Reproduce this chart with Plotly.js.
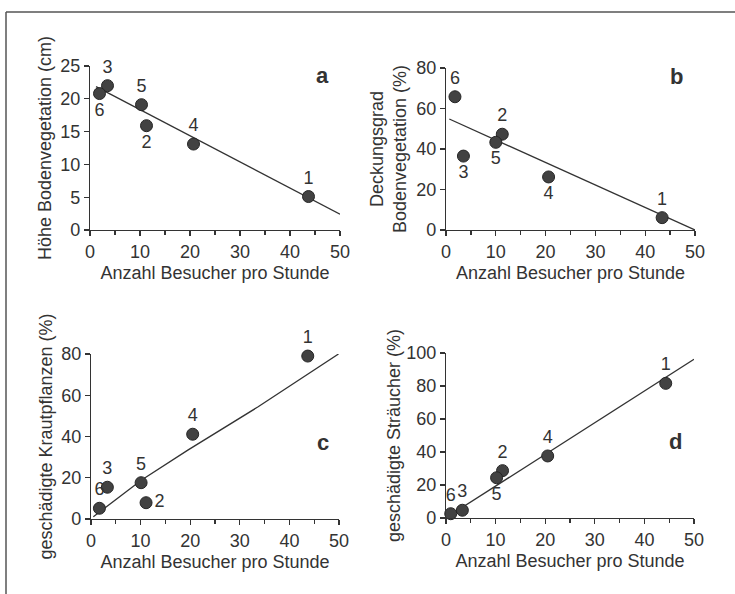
<!DOCTYPE html>
<html><head><meta charset="utf-8">
<script src="https://cdn.plot.ly/plotly-3.0.1.min.js"></script>
<style>html,body{margin:0;padding:0;background:#fff}#chart{width:735px;height:594px}</style>
</head><body><div id="chart"></div><script>
// ---- data ----
const pointLabels = ['1', '2', '3', '4', '5', '6'];
const xTitle = 'Anzahl Besucher pro Stunde';

// a: Höhe Bodenvegetation
const visitorsA = [43.7, 11.3, 3.5, 20.7, 10.3, 1.9];
const heightA = [5.1, 15.9, 22.0, 13.1, 19.1, 20.8];
const fitAx = [1.2, 50];
const fitAy = [21.85, 2.4];

// b: Deckungsgrad Bodenvegetation
const visitorsB = [43.4, 11.3, 3.5, 20.6, 10.0, 1.8];
const coverB = [6.1, 47.3, 36.5, 26.2, 43.3, 65.8];
const fitBx = [0.66, 50];
const fitBy = [54.8, 0];

// c: geschädigte Krautpflanzen
const visitorsC = [43.7, 11.1, 3.3, 20.5, 10.1, 1.7];
const herbsC = [79.0, 7.9, 15.4, 41.1, 17.6, 5.2];
const fitCx = [0.47, 10.2, 19.6, 33.7, 49.9];
const fitCy = [1.1, 18.9, 33.5, 54.4, 80.0];

// d: geschädigte Sträucher
const visitorsD = [44.3, 11.4, 3.3, 20.5, 10.2, 0.95];
const shrubsD = [81.6, 28.7, 4.7, 37.6, 24.4, 2.6];
const fitDx = [0.5, 50];
const fitDy = [1.1, 96.2];

const panelLetters = ['a', 'b', 'c', 'd'];

// ---- styles ----
const W = 735, H = 594;
const ink = '#333333';
const fontFam = '"Liberation Sans", Arial, Helvetica, sans-serif';
const posA = ['top center', 'bottom center', 'top center', 'top center', 'top center', 'bottom center'];
const posB = ['top center', 'top center', 'bottom center', 'bottom center', 'bottom center', 'top center'];
const posC = ['top center', 'middle right', 'top center', 'top center', 'top center', 'top center'];
const posD = ['top center', 'top center', 'top center', 'top center', 'bottom center', 'top center'];

function lineTrace(x, y, xa, ya) {
  return {x: x, y: y, xaxis: xa, yaxis: ya, mode: 'lines', type: 'scatter',
    line: {color: ink, width: 1.3}, hoverinfo: 'skip', showlegend: false, cliponaxis: false};
}
function pointTrace(x, y, pos, xa, ya) {
  return {x: x, y: y, xaxis: xa, yaxis: ya, mode: 'markers+text', type: 'scatter',
    text: pointLabels, textposition: pos,
    textfont: {family: fontFam, size: 18, color: ink},
    marker: {size: 12, color: '#424242', line: {color: '#262626', width: 1}},
    showlegend: false, cliponaxis: false};
}

const data = [
  lineTrace(fitAx, fitAy, 'x', 'y'), pointTrace(visitorsA, heightA, posA, 'x', 'y'),
  lineTrace(fitBx, fitBy, 'x2', 'y2'), pointTrace(visitorsB, coverB, posB, 'x2', 'y2'),
  lineTrace(fitCx, fitCy, 'x3', 'y3'), pointTrace(visitorsC, herbsC, posC, 'x3', 'y3'),
  lineTrace(fitDx, fitDy, 'x4', 'y4'), pointTrace(visitorsD, shrubsD, posD, 'x4', 'y4')
];

function xAxis(l, r, anchor) {
  return {domain: [l / W, r / W], anchor: anchor, range: [0, 50], tick0: 0, dtick: 10,
    showline: true, linecolor: ink, linewidth: 1.2, ticks: 'outside', ticklen: 5, tickwidth: 1.2,
    tickcolor: ink, showgrid: false, zeroline: false, fixedrange: true,
    minor: {dtick: 5, tick0: 0, ticks: 'outside', ticklen: 4, tickwidth: 1.2, tickcolor: ink, showgrid: false},
    tickfont: {family: fontFam, size: 18, color: ink},
    title: {text: xTitle, font: {family: fontFam, size: 18, color: ink}, standoff: 5}};
}
function yAxis(t, b, top, dt, anchor, title, so) {
  return {domain: [1 - b / H, 1 - t / H], anchor: anchor, range: [0, top], tick0: 0, dtick: dt,
    showline: true, linecolor: ink, linewidth: 1.2, ticks: 'outside', ticklen: 5, tickwidth: 1.2,
    tickcolor: ink, showgrid: false, zeroline: false, fixedrange: true,
    tickfont: {family: fontFam, size: 18, color: ink},
    title: {text: title, font: {family: fontFam, size: 18, color: ink}, standoff: so}};
}

const layout = {
  width: W, height: H, margin: {l: 0, r: 0, t: 0, b: 0},
  paper_bgcolor: '#ffffff', plot_bgcolor: 'rgba(0,0,0,0)', showlegend: false,
  font: {family: fontFam, color: ink},
  xaxis: xAxis(90, 340, 'y'),
  yaxis: yAxis(66, 230, 25, 5, 'x', 'Höhe Bodenvegetation (cm)', 3),
  xaxis2: xAxis(446, 695, 'y2'),
  yaxis2: yAxis(68, 230, 80, 20, 'x2', 'Deckungsgrad<br>Bodenvegetation (%)', 4),
  xaxis3: xAxis(91, 339, 'y3'),
  yaxis3: yAxis(354, 519, 80, 20, 'x3', 'geschädigte Krautpflanzen (%)', 3),
  xaxis4: xAxis(446, 694, 'y4'),
  yaxis4: yAxis(353, 518, 100, 20, 'x4', 'geschädigte Sträucher (%)', 0),
  annotations: [
    {xref: 'x', yref: 'y', x: 46.4, y: 23.5},
    {xref: 'x2', yref: 'y2', x: 46.2, y: 76},
    {xref: 'x3', yref: 'y3', x: 46.8, y: 37},
    {xref: 'x4', yref: 'y4', x: 46.2, y: 46.2}
  ].map((a, i) => Object.assign(a, {text: '<b>' + panelLetters[i] + '</b>', showarrow: false,
    font: {family: fontFam, size: 22, color: ink}})),
  shapes: [
    {type: 'line', xref: 'paper', yref: 'paper', x0: 6 / W, x1: 1, y0: 1 - 12 / H, y1: 1 - 12 / H,
      line: {color: '#555', width: 1.5}},
    {type: 'line', xref: 'paper', yref: 'paper', x0: 6 / W, x1: 6 / W, y0: 0, y1: 1 - 12 / H,
      line: {color: '#555', width: 1.5}}
  ]
};

Plotly.newPlot('chart', data, layout, {displayModeBar: false, staticPlot: true});
</script></body></html>
